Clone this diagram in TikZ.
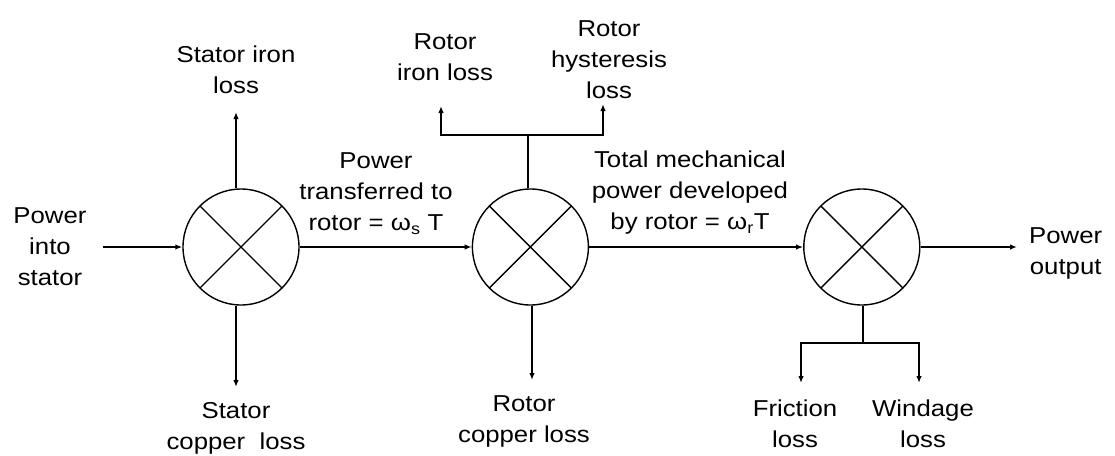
\documentclass[tikz,border=0pt]{standalone}
\usepackage{fontspec}
\setmainfont{Liberation Sans}[FakeStretch=1.12]
\usetikzlibrary{
	arrows.meta,
	positioning
}

\begin{document}
\begin{tikzpicture}[
    x=1pt, y=-1pt,
    mixer/.style={circle, draw, line width=1.4pt, minimum size=116pt, inner sep=0pt,
      path picture={\draw[line width=1.4pt] (path picture bounding box.north west) -- (path picture bounding box.south east)
        (path picture bounding box.north east) -- (path picture bounding box.south west);}},
    lbl/.style={align=center, inner sep=0pt, font=\fontsize{23}{31}\selectfont},
    arrow/.style={line width=1.5pt, -{Latex[length=7pt,width=5.5pt]}},
    varrow/.style={arrow, line width=2.2pt},
    branch/.style={line width=2.2pt}
]
\useasboundingbox (0,0) rectangle (1115,455);

% Mixing points
\node[mixer] (c1) at (241,247) {};
\node[mixer, right=172pt of c1] (c2) {};
\node[mixer, right=214pt of c2] (c3) {};

% Input and output
\node[lbl] (pin) at (50,247) {Power\\into\\stator};
\node[lbl, anchor=west] (pout) at (1029,253) {Power\\output};
\draw[arrow] ([xshift=16pt]pin.east) -- (c1.west);
\draw[arrow, shorten >=12pt] (c3.east) -- (c3.east -| pout.west);

% Power flow
\draw[arrow] (c1.east) -- (c2.west);
\draw[arrow] (c2.east) -- (c3.west);
\node[lbl] (ptrans) at (376,194) {Power\\transferred to\\rotor = ω\textsubscript{s} T};
\node[lbl] (pmech) at (690,193) {Total mechanical\\power developed\\by rotor = ω\textsubscript{r}T};

% Stator losses
\coordinate (t1u) at (236,112);
\coordinate (t1d) at (236,387);
\draw[varrow] (c1.north -| t1u) -- (t1u);
\draw[varrow] (c1.south -| t1d) -- (t1d);
\node[lbl, above=18pt of t1u] (siron) {Stator iron\\loss};
\node[lbl, below=15pt of t1d] (scopper) {Stator\\copper\ \ loss};

% Rotor losses
\coordinate (j2) at (528,135);
\coordinate (t2l) at (441,106);
\coordinate (t2r) at (603,104);
\coordinate (t2d) at (532,380);
\draw[branch] (c2.north -| j2) -- (j2);
\draw[varrow] (j2) -| (t2l);
\draw[varrow] (j2) -| (t2r);
\draw[varrow] (c2.south -| t2d) -- (t2d);
\node[lbl, above=25pt of t2l, xshift=4pt] (riron) {Rotor\\iron loss};
\node[lbl, above=5pt of t2r, xshift=6pt] (rhyst) {Rotor\\hysteresis\\loss};
\node[lbl, below=15pt of t2d, xshift=-8pt] (rcopper) {Rotor\\copper loss};

% Mechanical losses
\coordinate (j3) at (863,343);
\coordinate (t3l) at (801,383);
\coordinate (t3r) at (919,383);
\draw[branch] (c3.south -| j3) -- (j3);
\draw[varrow] (j3) -| (t3l);
\draw[varrow] (j3) -| (t3r);
\node[lbl, below=17pt of t3l, xshift=-6pt] (fric) {Friction\\loss};
\node[lbl, below=17pt of t3r, xshift=4pt] (wind) {Windage\\loss};

\end{tikzpicture}
\end{document}
